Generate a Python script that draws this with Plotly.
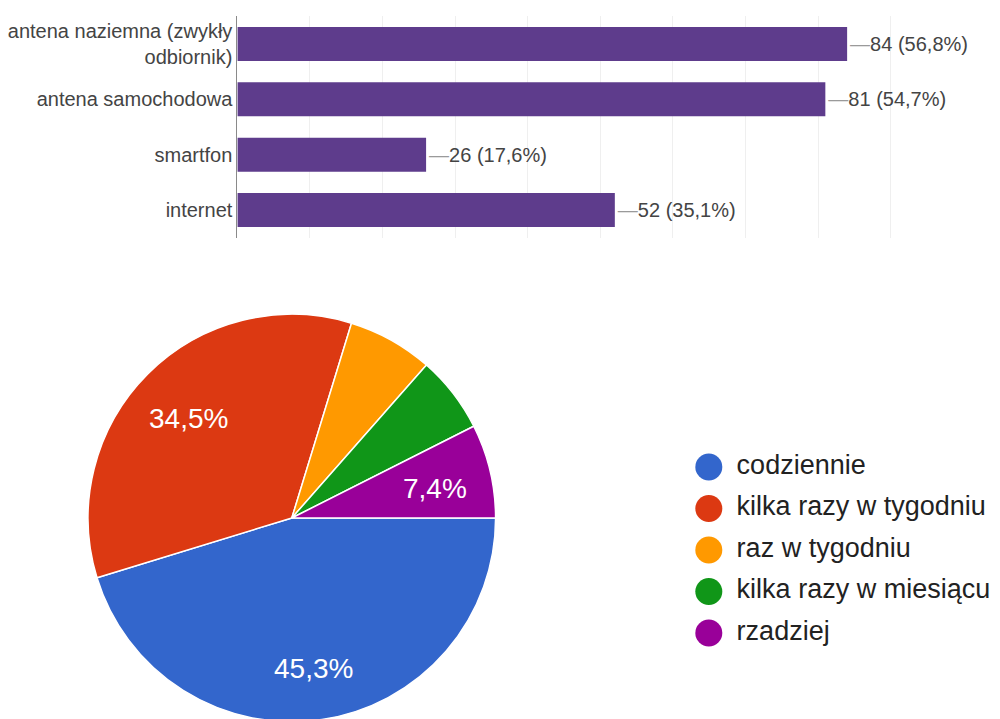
import math
import plotly.graph_objects as go

# ---------------- data ----------------
TOTAL = 148
bar_categories = ["antena naziemna (zwykły<br>odbiornik)", "antena samochodowa", "smartfon", "internet"]
bar_values = [84, 81, 26, 52]

pie_labels = ["codziennie", "kilka razy w tygodniu", "raz w tygodniu", "kilka razy w miesiącu", "rzadziej"]
pie_values = [67, 51, 10, 9, 11]
pie_colors = ["#3366CC", "#DC3912", "#FF9900", "#109618", "#990099"]

# ---------------- style constants ----------------
W, H = 1000, 719
OFF = 8  # page body margin around the figure
FONT = "Liberation Sans, Arial, sans-serif"
BAR_COLOR = "#5e3c8c"


def px_x(page_x):
    return (page_x - OFF) / W


def px_y(page_y):
    return 1 - (page_y - OFF) / H


def pct_text(v, total):
    return f"{100 * v / total:.1f}".replace(".", ",") + "%"


bar_text = [
    f'<span style="color:#9a9a9a">—</span>{v} ({pct_text(v, TOTAL)})' for v in bar_values
]

fig = go.Figure()

# ---------------- bar chart ----------------
fig.add_trace(go.Bar(
    x=bar_values, y=bar_categories, orientation="h",
    marker=dict(color=BAR_COLOR, line=dict(width=0)),
    text=bar_text, textposition="outside", textfont=dict(size=20, color="#444444", family=FONT),
    constraintext="none", cliponaxis=False, hoverinfo="skip", showlegend=False,
    xaxis="x", yaxis="y",
))

# ---------------- pie ----------------
PIE_CX, PIE_CY, PIE_R = 287.5, 518, 205  # page pixels
pie_x0, pie_x1 = px_x(PIE_CX - PIE_R), px_x(PIE_CX + PIE_R)
pie_y0, pie_y1 = max(0.0, px_y(PIE_CY + PIE_R)), px_y(PIE_CY - PIE_R)
pie_total = sum(pie_values)
fig.add_trace(go.Pie(
    labels=pie_labels, values=pie_values, sort=False, direction="clockwise", rotation=90,
    marker=dict(colors=pie_colors, line=dict(color="white", width=1.5)),
    textinfo="none", hoverinfo="label+percent", showlegend=False,
    domain=dict(x=[pie_x0, pie_x1], y=[pie_y0, pie_y1]),
))

# percentage labels on slices (only slices large enough, as in the original)
wpx = (pie_x1 - pie_x0) * W
hpx = (pie_y1 - pie_y0) * H
r_px = min(wpx, hpx) / 2
LABEL_R = 0.72
annotations = []
cum = 0
for v in pie_values:
    frac = v / pie_total
    mid = math.radians(90 + 360 * (cum + frac / 2))
    cum += frac
    if frac * 100 < 7:
        continue
    annotations.append(dict(
        x=LABEL_R * math.sin(mid), y=LABEL_R * math.cos(mid), xref="x3", yref="y3",
        text=pct_text(v, pie_total), showarrow=False, xanchor="center", yanchor="middle",
        yshift=-5, font=dict(size=28, color="white", family=FONT),
    ))

# ---------------- custom legend with round markers ----------------
leg_idx = list(range(len(pie_labels)))
LEG_X0 = px_x(680)
fig.add_trace(go.Scatter(
    x=[(707 - 680) / (W * (1 - LEG_X0))] * len(pie_labels), y=leg_idx, mode="markers",
    marker=dict(size=27, color=pie_colors, line=dict(width=0)),
    hoverinfo="skip", showlegend=False, xaxis="x2", yaxis="y2",
))
fig.add_trace(go.Scatter(
    x=[(735 - 680) / (W * (1 - LEG_X0))] * len(pie_labels), y=leg_idx, mode="text", text=pie_labels,
    textposition="middle right", textfont=dict(size=27, color="#222222", family=FONT),
    hoverinfo="skip", showlegend=False, xaxis="x2", yaxis="y2", cliponaxis=False,
))

hidden = dict(showgrid=False, zeroline=False, showticklabels=False, showline=False, ticks="")

ROW0, ROW_STEP = 467, 41.5  # page pixels of legend rows

fig.update_layout(
    width=W, height=H, margin=dict(l=0, r=0, t=0, b=0),
    paper_bgcolor="white", plot_bgcolor="white",
    font=dict(family=FONT, color="#444444"),
    bargap=0.385,
    xaxis=dict(domain=[px_x(232.7), px_x(963)], range=[0, 100], dtick=10, showgrid=True,
               gridcolor="#efefef", gridwidth=1, zeroline=False, showticklabels=False,
               showline=False, ticks="", anchor="y"),
    yaxis=dict(domain=[px_y(237.65), px_y(16.35)], type="category", autorange="reversed",
               showline=True, linecolor="#8a8a8a", linewidth=1, ticks="",
               tickfont=dict(size=20, color="#444444", family=FONT), anchor="x",
               showgrid=False, zeroline=False),
    xaxis2=dict(domain=[LEG_X0, 1.0], range=[0, 1], anchor="y2", **hidden),
    yaxis2=dict(domain=[px_y(ROW0 + ROW_STEP * 4.5), px_y(ROW0 - ROW_STEP * 0.5)],
                range=[4.5, -0.5], anchor="x2", **hidden),
    xaxis3=dict(domain=[pie_x0, pie_x1], range=[-wpx / 2 / r_px, wpx / 2 / r_px], anchor="y3", **hidden),
    yaxis3=dict(domain=[pie_y0, pie_y1], range=[-hpx / 2 / r_px, hpx / 2 / r_px], anchor="x3", **hidden),
    annotations=annotations,
)

fig.write_html("out.html")
